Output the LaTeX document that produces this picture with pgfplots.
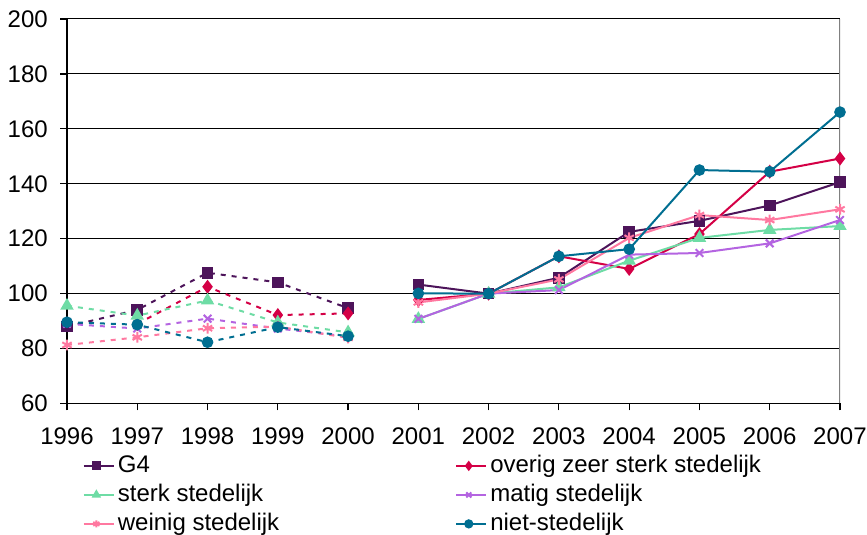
\documentclass[border=0pt]{standalone}
\usepackage{fontspec}
\setmainfont{Liberation Sans}
\usepackage{pgfplots}
\pgfplotsset{compat=1.18}
\definecolor{cgf}{RGB}{77,20,90}
\definecolor{cred}{RGB}{212,0,70}
\definecolor{cgreen}{RGB}{110,220,165}
\definecolor{cpurple}{RGB}{180,100,225}
\definecolor{cpink}{RGB}{255,120,160}
\definecolor{cteal}{RGB}{0,110,145}
\pgfplotsset{
  dashser/.style={line width=1pt, dash pattern=on 2.5pt off 3pt, mark options={solid}, forget plot},
  solidser/.style={line width=1pt, mark options={solid}},
  sG/.style={cgf, mark=square*, mark size=2.4pt},
  sR/.style={cred, mark=diamond*, mark size=2.7pt},
  sN/.style={cgreen, mark=triangle*, mark size=2.9pt},
  sP/.style={cpurple, mark=x, mark size=2.7pt, mark options={line width=0.7pt}},
  sK/.style={cpink, mark=asterisk, mark size=2.7pt, mark options={line width=0.7pt}},
  sT/.style={cteal, mark=*, mark size=2.4pt},
}
\begin{document}
\fontsize{11.75}{14}\selectfont
\begin{tikzpicture}
\useasboundingbox (0,0) rectangle (433.5pt,267.5pt);
\begin{axis}[
  at={(33.5pt,65.75pt)}, anchor=south west,
  scale only axis, width=386.5pt, height=192.25pt,
  xmin=1996, xmax=2007, ymin=60, ymax=200,
  xtick={1996,...,2007}, ytick={60,80,...,200},
  axis lines*=left,
  axis line style={black, line width=0.7pt},
  tick align=outside, major tick length=3.5pt,
  tick style={black, line width=0.6pt},
  ymajorgrids, major grid style={black, line width=0.5pt},
  /pgf/number format/assume math mode=true,
  xticklabel style={/pgf/number format/1000 sep={}, yshift=-4.5pt},
  yticklabel style={xshift=-2pt},
  ticklabel style={font=\fontsize{12}{14}\selectfont},
  legend columns=2,
  legend cell align=left,
  legend style={at={(0.020,-0.1235)}, anchor=north west, draw=none, fill=none,
    inner sep=0pt, row sep=0pt,
    font=\fontsize{12}{14}\selectfont,
    nodes={inner sep=1.5pt, text height=9pt, text depth=2.5pt},
    /tikz/every even column/.append style={column sep=86.5pt}},
  legend image code/.code={
     \path (0pt,0pt) -- (15pt,0pt);
     \draw[#1, mark=none] (0pt,0pt) -- (12.5pt,0pt);
     \draw[#1, mark size=1.8pt] plot coordinates {(6.25pt,0pt)};},
]
% dashed 1996-2000
\addplot[sG, dashser] coordinates {(1996,88) (1997,94.1) (1998,107.6) (1999,104.1) (2000,94.7)};
\addplot[sR, dashser] coordinates {(1997,89) (1998,102.5) (1999,92.2) (2000,92.8)};
\addplot[sN, dashser] coordinates {(1996,95.6) (1997,92) (1998,97.5) (1999,89.5) (2000,85.9)};
\addplot[sP, dashser] coordinates {(1996,89) (1997,87.3) (1998,90.9) (1999,87.3) (2000,84.4)};
\addplot[sK, dashser] coordinates {(1996,81.3) (1997,84.1) (1998,87.4) (1999,88) (2000,83.9)};
\addplot[sT, dashser] coordinates {(1996,89.6) (1997,88.7) (1998,82.3) (1999,87.8) (2000,84.5)};
% solid 2001-2007
\addplot[sG, solidser] coordinates {(2001,103.3) (2002,100) (2003,105.8) (2004,122.5) (2005,126.5) (2006,132.1) (2007,140.6)};
\addlegendentry{G4}
\addplot[sR, solidser] coordinates {(2001,97.7) (2002,100) (2003,113.6) (2004,109) (2005,121.7) (2006,144.4) (2007,149.2)};
\addlegendentry{overig zeer sterk stedelijk}
\addplot[sN, solidser] coordinates {(2001,90.8) (2002,100) (2003,102.3) (2004,112) (2005,120.3) (2006,123.2) (2007,124.6)};
\addlegendentry{sterk stedelijk}
\addplot[sP, solidser] coordinates {(2001,90.8) (2002,100) (2003,101.3) (2004,114.2) (2005,114.8) (2006,118.3) (2007,126.8)};
\addlegendentry{matig stedelijk}
\addplot[sK, solidser] coordinates {(2001,96.8) (2002,100) (2003,105.2) (2004,120.3) (2005,128.6) (2006,126.8) (2007,130.7)};
\addlegendentry{weinig stedelijk}
\addplot[sT, solidser] coordinates {(2001,100.1) (2002,100) (2003,113.6) (2004,116.2) (2005,145) (2006,144.4) (2007,166.1)};
\addlegendentry{niet-stedelijk}
\draw[gray, line width=1pt] (rel axis cs:1,0) -- (rel axis cs:1,1);
\end{axis}
\end{tikzpicture}
\end{document}
